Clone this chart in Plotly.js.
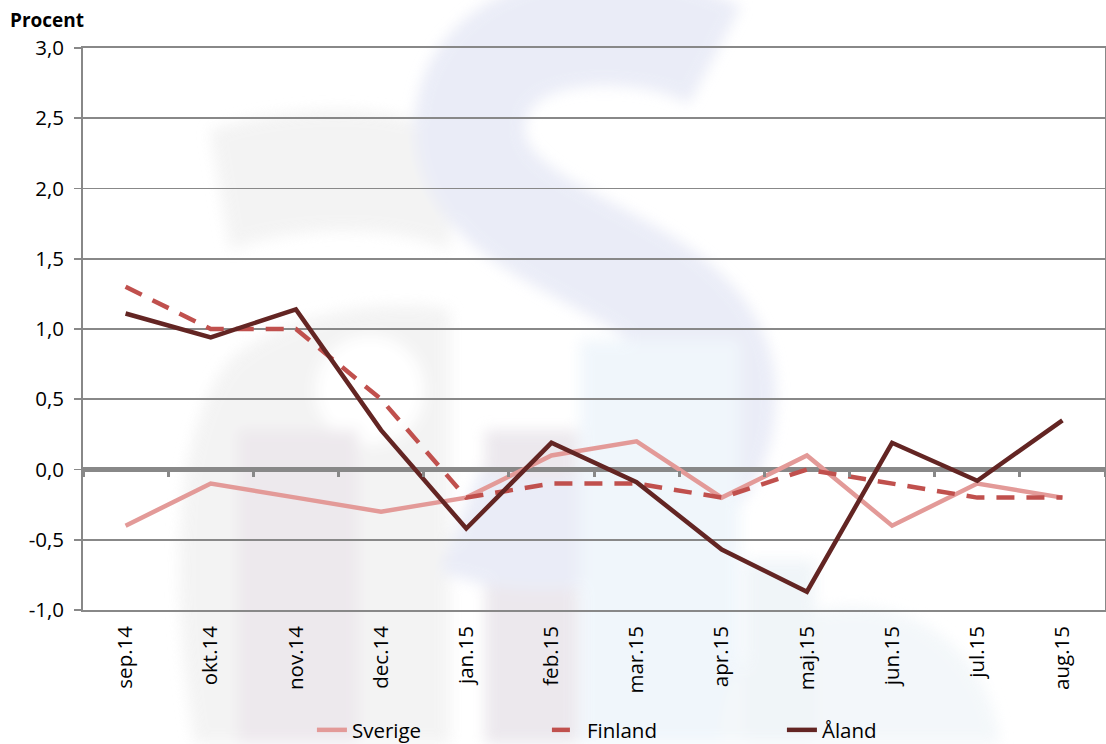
<!DOCTYPE html>
<html>
<head>
<meta charset="utf-8">
<script src="https://cdn.plot.ly/plotly-3.0.1.min.js"></script>
<style>
html,body{margin:0;padding:0;background:#fff;}
#wrap{position:relative;width:1106px;height:744px;overflow:hidden;}
#bg{position:absolute;left:0;top:0;}
#chart{position:absolute;left:0;top:0;width:1106px;height:744px;}
</style>
</head>
<body>
<div id="wrap">
<svg id="bg" width="1106" height="744" xmlns="http://www.w3.org/2000/svg">
  <defs><filter id="bl"><feGaussianBlur stdDeviation="7"/></filter></defs>
  <g filter="url(#bl)" opacity="0.7">
    <path d="M 210 130 C 300 100, 420 105, 450 140 L 450 744 L 195 744 C 170 600, 170 430, 230 360 C 300 300, 420 300, 450 310 L 450 250 C 380 220, 280 230, 230 250 Z" fill="#efefef"/>
    <ellipse cx="370" cy="390" rx="55" ry="55" fill="#ffffff"/>
    <rect x="238" y="430" width="120" height="314" fill="#e6e0e6"/>
    <rect x="485" y="430" width="93" height="314" fill="#e4dfe6"/>
    <path d="M 715 55 C 640 15, 480 15, 470 120 C 460 250, 700 250, 720 380 C 735 520, 560 560, 460 520" fill="none" stroke="#e2e5f4" stroke-width="110"/>
    <rect x="580" y="340" width="160" height="404" fill="#eaf3fa"/>
    <path d="M 720 744 C 720 560, 980 560, 1000 744 Z" fill="#eff4f8"/>
    <rect x="745" y="560" width="70" height="184" fill="#eaf1f6"/>
  </g>
</svg>
<div id="chart"></div>
</div>
<script>
var categories = ["sep.14","okt.14","nov.14","dec.14","jan.15","feb.15","mar.15","apr.15","maj.15","jun.15","jul.15","aug.15"];
var sverige = [-0.4,-0.1,-0.2,-0.3,-0.2,0.1,0.2,-0.2,0.1,-0.4,-0.1,-0.2];
var finland = [1.3,1.0,1.0,0.5,-0.2,-0.1,-0.1,-0.2,0.0,-0.1,-0.2,-0.2];
var aland = [1.11,0.94,1.14,0.28,-0.42,0.19,-0.09,-0.57,-0.87,0.19,-0.08,0.35];
var seriesNames = ["Sverige","Finland","Åland"];
var yTicks = [-1,-0.5,0,0.5,1,1.5,2,2.5,3];
var yTickText = yTicks.map(function(v){ return v.toFixed(1).replace(".", ","); });

var F = "'Open Sans', Lato, sans-serif";
var traces = [
  {x:categories, y:sverige, name:seriesNames[0], type:"scatter", mode:"lines",
   line:{color:"#E39A98", width:4.5}},
  {x:categories, y:finland, name:seriesNames[1], type:"scatter", mode:"lines",
   line:{color:"#C0504D", width:4.5, dash:"18px,12px"}},
  {x:categories, y:aland, name:seriesNames[2], type:"scatter", mode:"lines",
   line:{color:"#632523", width:4.5}},
  {x:categories, y:finland, xaxis:"x2", yaxis:"y", type:"scatter", mode:"lines",
   line:{width:0}, opacity:0, showlegend:false, hoverinfo:"skip"}
];
var layout = {
  width:1106, height:744,
  paper_bgcolor:"rgba(0,0,0,0)", plot_bgcolor:"rgba(0,0,0,0)",
  margin:{l:83, r:1, t:48, b:134, autoexpand:false},
  font:{family:F, color:"#000", size:20},
  showlegend:true,
  xaxis:{type:"category", categoryarray:categories, range:[-0.5,11.5],
    showgrid:false, zeroline:false, showline:true, mirror:true, linecolor:"#888", linewidth:1.8,
    ticks:"", tickangle:-90, ticklabelstandoff:6, tickfont:{family:F, size:20.5, color:"#000"}},
  xaxis2:{type:"category", categoryarray:categories, range:[-0.5,11.5], overlaying:"x",
    anchor:"free", position:0.25, showgrid:false, zeroline:false, showline:false,
    ticks:"outside", tickson:"boundaries", ticklen:6, tickwidth:3, tickcolor:"#888",
    showticklabels:false},
  yaxis:{range:[-1,3], tickvals:yTicks, ticktext:yTickText, showgrid:true, gridcolor:"#888", gridwidth:1.8,
    zeroline:true, zerolinecolor:"#888", zerolinewidth:4.5,
    showline:true, mirror:true, linecolor:"#888", linewidth:1.8,
    ticks:"outside", ticklen:7, tickcolor:"#888", tickwidth:1.8, ticklabelstandoff:6,
    tickfont:{family:F, size:20.5, color:"#000"}},
  legend:{orientation:"h", x:0.224, xanchor:"left", y:-0.178, yanchor:"top",
    bgcolor:"rgba(0,0,0,0)", font:{family:F, size:20.5, color:"#000"},
    entrywidth:190, entrywidthmode:"pixels", traceorder:"normal"},
  annotations:[{text:"<b>Procent</b>", xref:"paper", yref:"paper", x:-0.073, y:1.0498,
    xanchor:"left", yanchor:"middle", showarrow:false, font:{family:F, size:19, color:"#000"}}]
};
Plotly.newPlot("chart", traces, layout, {displayModeBar:false, staticPlot:true});
</script>
</body>
</html>
